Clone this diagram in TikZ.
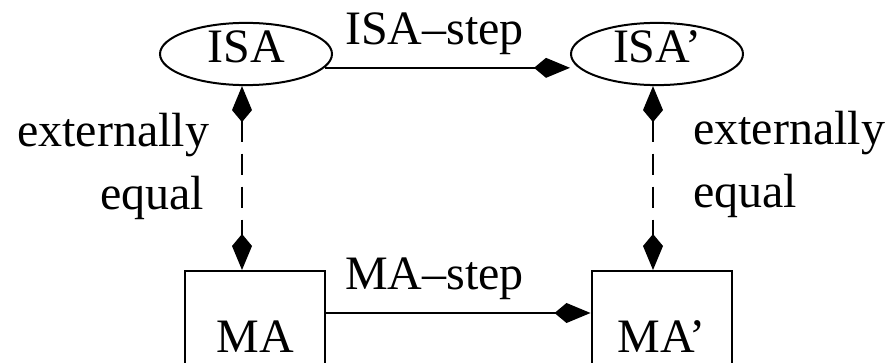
\documentclass[tikz,border=0pt]{standalone}
\usepackage{fontspec}
\setmainfont{Liberation Serif}
\usetikzlibrary{arrows.meta,shapes.geometric}
\begin{document}
\begin{tikzpicture}[x=1pt,y=-1pt,
  txt/.style={font=\fontsize{48}{58}\selectfont},
  lbl/.style={txt, inner sep=0pt},
  state/.style={txt, ellipse, draw, line width=2pt, minimum width=172pt, minimum height=59pt,
    inner sep=0pt, text height=31pt, text depth=13pt},
  mbox/.style={txt, rectangle, draw, line width=2pt, minimum width=140pt, inner sep=0pt,
    text height=81pt, text depth=13pt},
  kt/.tip={Kite[length=36pt,width=20pt,inset=12pt]},
  conn/.style={line width=2pt},
  eqconn/.style={conn, dash pattern=on 21pt off 12pt, kt-kt},
  stepconn/.style={conn, -kt},
  ]
\useasboundingbox (0,0) rectangle (894,363);
\clip (0,0) rectangle (894,363);

\node[state] (ISA)  at (246,54) {ISA};
\node[state] (ISAp) at (657,54) {ISA'};
\node[mbox]  (MA)   at (255,318) {MA};
\node[mbox]  (MAp)  at (661.5,318) {MA'};

\draw[stepconn] (ISA.-10) -- (ISA.-10 -| ISAp.west);
\draw[stepconn] ([yshift=5pt]MA.east) -- ([yshift=5pt]MAp.west);

\draw[eqconn] ([xshift=-4pt]ISA.south) -- ([xshift=-4pt]ISA.south |- MA.north);
\draw[eqconn] ([xshift=-4pt]ISAp.south) -- ([xshift=-4pt]ISAp.south |- MAp.north);

\node[lbl, anchor=base west] (isastep) at (345,45) {ISA--step};
\node[lbl, anchor=base west] (mastep)  at (345,290) {MA--step};

\node[lbl, anchor=base west] (extL) at (17,147) {externally};
\node[lbl, anchor=base west] (eqL)  at (100,210) {equal};
\node[lbl, anchor=base west] (extR) at (693,145) {externally};
\node[lbl, anchor=base west] (eqR)  at (693,208) {equal};
\end{tikzpicture}
\end{document}
